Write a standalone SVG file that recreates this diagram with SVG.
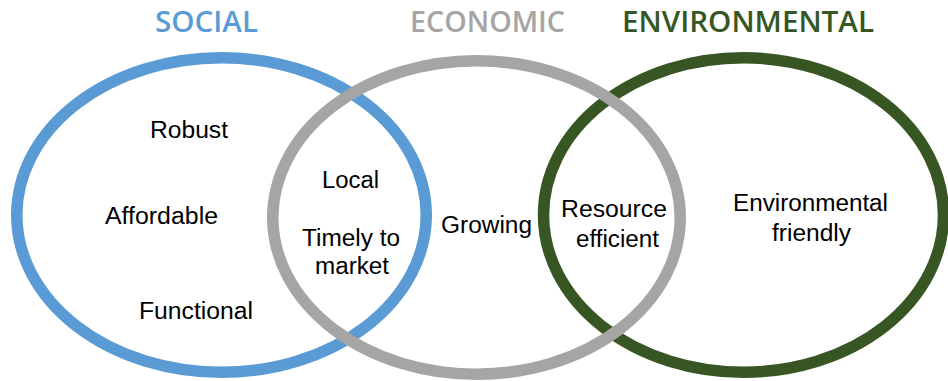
<svg xmlns="http://www.w3.org/2000/svg" width="948" height="381" viewBox="0 0 948 381">
  <style>
    .ring { fill: none; stroke-width: 11.5; }
    .title { font-family: "Open Sans", "Liberation Sans", sans-serif; font-weight: 600; font-size: 29px; text-anchor: start; }
    .label { font-family: "Liberation Sans", Arial, sans-serif; font-size: 23.5px; fill: #000000; }
  </style>
  <rect width="948" height="381" fill="#ffffff"/>

  <!-- Titles -->
  <g id="titles">
    <text class="title" x="155" y="32" fill="#5B9BD5" textLength="103" lengthAdjust="spacingAndGlyphs">SOCIAL</text>
    <text class="title" x="410" y="32" fill="#A5A5A5" textLength="155" lengthAdjust="spacingAndGlyphs">ECONOMIC</text>
    <text class="title" x="622" y="32" fill="#375623" textLength="252" lengthAdjust="spacingAndGlyphs">ENVIRONMENTAL</text>
  </g>

  <!-- Rings: blue and green first, grey on top -->
  <g id="social">
    <ellipse class="ring" cx="221.5" cy="215" rx="204.75" ry="157.25" stroke="#5B9BD5"/>
  </g>
  <g id="environmental">
    <ellipse class="ring" cx="743.5" cy="215" rx="200" ry="157.25" stroke="#375623"/>
  </g>
  <g id="economic">
    <ellipse class="ring" cx="476.5" cy="217.5" rx="203.75" ry="156.75" stroke="#A5A5A5"/>
  </g>

  <!-- Labels -->
  <g id="labels">
    <text class="label" x="150" y="138" textLength="78" lengthAdjust="spacingAndGlyphs">Robust</text>
    <text class="label" x="105" y="224" textLength="113" lengthAdjust="spacingAndGlyphs">Affordable</text>
    <text class="label" x="139" y="319" textLength="114" lengthAdjust="spacingAndGlyphs">Functional</text>
    <text class="label" x="322" y="188" textLength="57" lengthAdjust="spacingAndGlyphs">Local</text>
    <text class="label" x="302" y="246" textLength="98" lengthAdjust="spacingAndGlyphs">Timely to</text>
    <text class="label" x="315" y="274" textLength="74" lengthAdjust="spacingAndGlyphs">market</text>
    <text class="label" x="441" y="233" textLength="91" lengthAdjust="spacingAndGlyphs">Growing</text>
    <text class="label" x="561" y="217" textLength="106" lengthAdjust="spacingAndGlyphs">Resource</text>
    <text class="label" x="576" y="247" textLength="83" lengthAdjust="spacingAndGlyphs">efficient</text>
    <text class="label" x="733" y="211" textLength="155" lengthAdjust="spacingAndGlyphs">Environmental</text>
    <text class="label" x="772" y="241" textLength="79" lengthAdjust="spacingAndGlyphs">friendly</text>
  </g>
</svg>
